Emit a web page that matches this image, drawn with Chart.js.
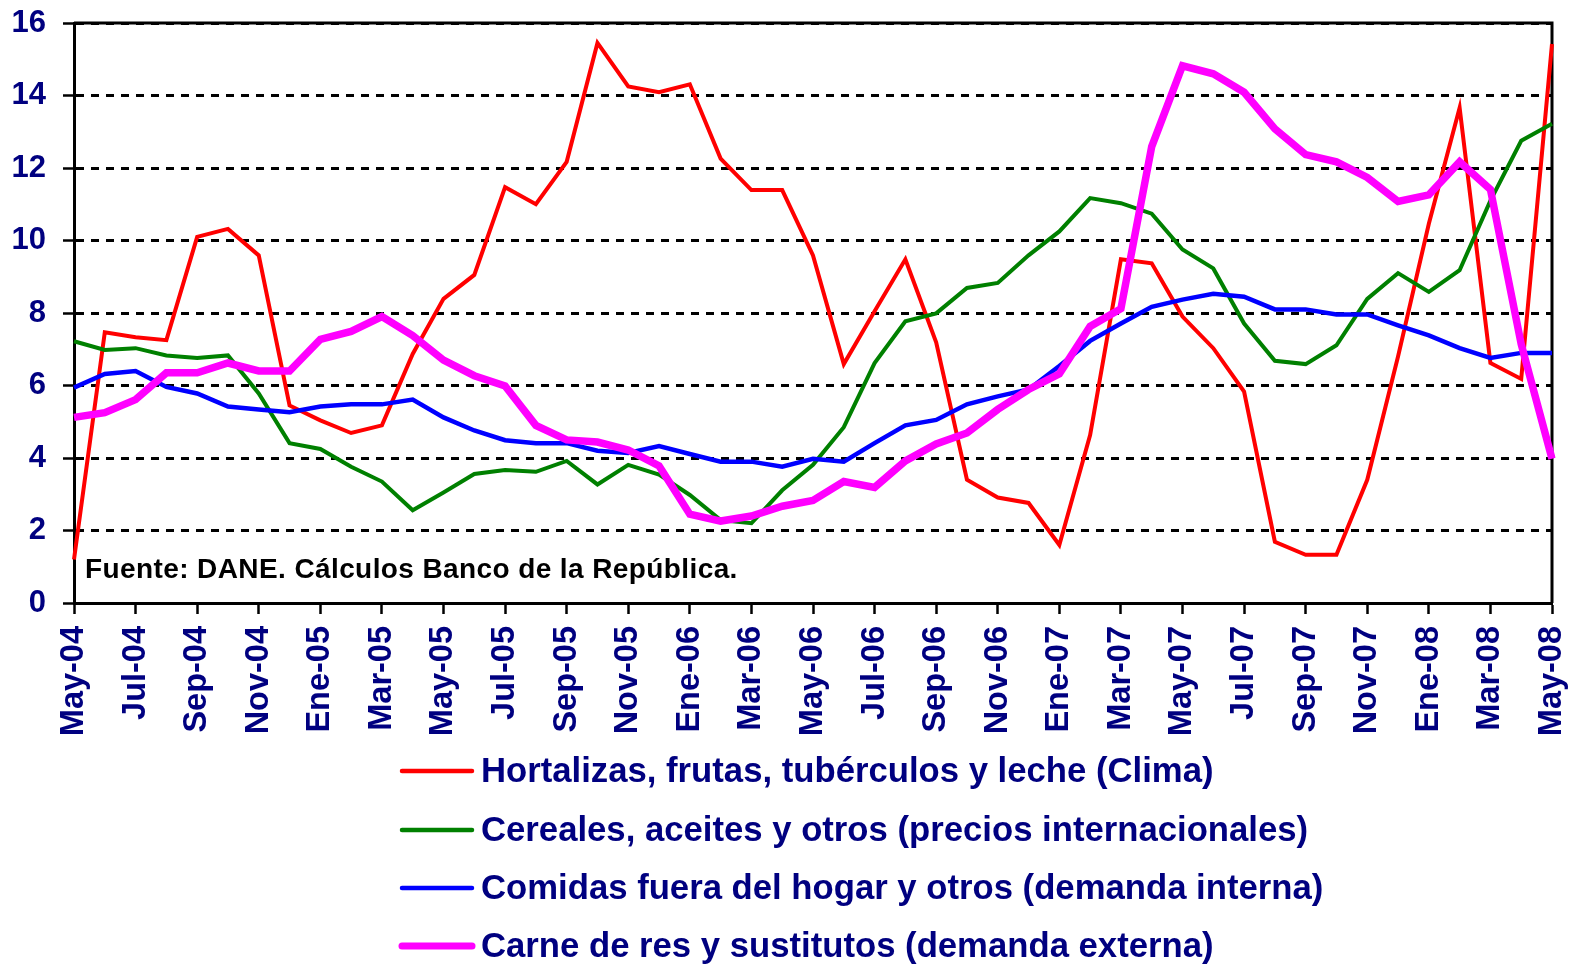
<!DOCTYPE html>
<html><head><meta charset="utf-8">
<script src="https://cdn.jsdelivr.net/npm/chart.js@4.4.1/dist/chart.umd.min.js"></script>
<style>html,body{margin:0;padding:0;background:#fff}#wrap{width:1572px;height:966px;position:relative}</style>
</head><body><div id="wrap"><canvas id="c" width="1572" height="966"></canvas></div>
<script>
const months = ['May-04','Jun-04','Jul-04','Ago-04','Sep-04','Oct-04','Nov-04','Dic-04',
  'Ene-05','Feb-05','Mar-05','Abr-05','May-05','Jun-05','Jul-05','Ago-05','Sep-05','Oct-05','Nov-05','Dic-05',
  'Ene-06','Feb-06','Mar-06','Abr-06','May-06','Jun-06','Jul-06','Ago-06','Sep-06','Oct-06','Nov-06','Dic-06',
  'Ene-07','Feb-07','Mar-07','Abr-07','May-07','Jun-07','Jul-07','Ago-07','Sep-07','Oct-07','Nov-07','Dic-07',
  'Ene-08','Feb-08','Mar-08','Abr-08','May-08'];
const seriesNames = ['Hortalizas, frutas, tubérculos y leche (Clima)',
  'Cereales, aceites y otros (precios internacionales)',
  'Comidas fuera del hogar y otros (demanda interna)',
  'Carne de res y sustitutos (demanda externa)'];
const hortalizas = [1.2, 7.47, 7.33, 7.25, 10.1, 10.32, 9.59, 5.45, 5.04, 4.69,
  4.9, 6.87, 8.39, 9.05, 11.47, 11.0, 12.17, 15.45, 14.25, 14.09,
  14.31, 12.26, 11.39, 11.39, 9.59, 6.59, 8.05, 9.48, 7.19, 3.4,
  2.91, 2.76, 1.6, 4.63, 9.48, 9.37, 7.9, 7.03, 5.83, 1.69,
  1.33, 1.33, 3.4, 6.8, 10.46, 13.66, 6.62, 6.18, 15.42];
const cereales = [7.22, 6.98, 7.03, 6.83, 6.76, 6.83, 5.78, 4.41, 4.25, 3.76,
  3.35, 2.56, 3.05, 3.56, 3.67, 3.62, 3.92, 3.27, 3.81, 3.54,
  2.98, 2.29, 2.2, 3.11, 3.81, 4.85, 6.62, 7.77, 7.99, 8.69,
  8.83, 9.59, 10.25, 11.17, 11.03, 10.74, 9.75, 9.23, 7.71, 6.68,
  6.59, 7.11, 8.39, 9.1, 8.58, 9.18, 11.1, 12.75, 13.22];
const comidas = [5.94, 6.32, 6.4, 5.96, 5.78, 5.42, 5.34, 5.26, 5.42, 5.48,
  5.48, 5.61, 5.12, 4.76, 4.49, 4.41, 4.41, 4.2, 4.14, 4.33,
  4.11, 3.9, 3.9, 3.76, 3.98, 3.9, 4.41, 4.9, 5.05, 5.48,
  5.7, 5.89, 6.54, 7.23, 7.71, 8.17, 8.37, 8.53, 8.45, 8.1,
  8.1, 7.96, 7.96, 7.66, 7.38, 7.03, 6.76, 6.9, 6.9];
const carne = [5.12, 5.25, 5.61, 6.35, 6.35, 6.62, 6.4, 6.4, 7.27, 7.49,
  7.9, 7.38, 6.7, 6.27, 5.99, 4.9, 4.5, 4.44, 4.22, 3.78,
  2.45, 2.26, 2.4, 2.67, 2.83, 3.35, 3.19, 3.92, 4.39, 4.69,
  5.34, 5.89, 6.32, 7.63, 8.12, 12.59, 14.82, 14.6, 14.09, 13.08,
  12.37, 12.17, 11.74, 11.08, 11.26, 12.17, 11.41, 7.14, 3.98];
const sourceNote = 'Fuente: DANE. Cálculos Banco de la República.';

const NAVY = '#000080';
const FONT = "'Liberation Sans', Arial, sans-serif";
Chart.defaults.font.family = FONT;

const colors = ['#FF0000', '#008000', '#0000FF', '#FF00FF'];
const widths = [4, 4, 4.5, 7.5];
const values = [hortalizas, cereales, comidas, carne];

const overlay = {
  id: 'overlay',
  beforeDatasetsDraw(chart) {
    const a = chart.chartArea, ctx = chart.ctx;
    ctx.save();
    ctx.strokeStyle = '#000';
    ctx.lineWidth = 3;
    ctx.beginPath();
    ctx.moveTo(a.left, a.top); ctx.lineTo(a.right, a.top); ctx.lineTo(a.right, a.bottom);
    ctx.stroke();
    ctx.restore();
  },
  afterDraw(chart) {
    const a = chart.chartArea, ctx = chart.ctx;
    ctx.save();
    ctx.fillStyle = '#000';
    ctx.font = 'bold 28px ' + FONT;
    if ('letterSpacing' in ctx) ctx.letterSpacing = '0.4px';
    ctx.textBaseline = 'alphabetic';
    ctx.textAlign = 'left';
    ctx.fillText(sourceNote, a.left + 11, 578);
    if ('letterSpacing' in ctx) ctx.letterSpacing = '0px';
    const rows = [771, 830, 888, 946];
    chart.data.datasets.forEach((ds, i) => {
      const y = rows[i];
      ctx.strokeStyle = ds.borderColor;
      ctx.lineWidth = i === 3 ? 7 : 4.5;
      ctx.lineCap = 'round';
      ctx.beginPath(); ctx.moveTo(402, y); ctx.lineTo(472, y); ctx.stroke();
      ctx.fillStyle = NAVY;
      ctx.font = 'bold 34.7px ' + FONT;
      ctx.textBaseline = 'middle';
      ctx.fillText(ds.label, 481, y + 1);
    });
    ctx.restore();
  }
};

new Chart(document.getElementById('c'), {
  type: 'line',
  data: {
    labels: months,
    datasets: seriesNames.map((name, i) => ({
      label: name,
      data: values[i],
      borderColor: colors[i],
      backgroundColor: colors[i],
      borderWidth: widths[i],
      pointRadius: 0,
      tension: 0,
      fill: false,
      order: 4 - i
    }))
  },
  options: {
    responsive: false,
    animation: false,
    devicePixelRatio: 1,
    layout: { padding: { top: 23, right: 20, bottom: 0, left: 0 } },
    plugins: { legend: { display: false }, tooltip: { enabled: false } },
    scales: {
      x: {
        type: 'category',
        offset: false,
        afterFit(s) { s.height = 363; s.paddingLeft = 0; s.paddingRight = 0; },
        grid: { display: true, drawOnChartArea: false, drawTicks: true, tickLength: 11, tickColor: '#000', tickWidth: 2.5 },
        border: { display: true, color: '#000', width: 3 },
        ticks: {
          autoSkip: false, minRotation: 90, maxRotation: 90, padding: 12,
          color: NAVY, font: { size: 32.5, weight: 'bold' },
          callback: (v, i) => (i % 2 === 0 ? months[i] : null)
        }
      },
      y: {
        min: 0, max: 16,
        afterFit(s) { s.width = 74; s.paddingTop = 0; s.paddingBottom = 0; },
        grid: { color: '#000', lineWidth: 3, drawTicks: true, tickLength: 11, tickColor: '#000', tickWidth: 2.5, tickBorderDash: [] },
        border: { display: true, color: '#000', width: 3, dash: [8, 7] },
        ticks: { stepSize: 2, padding: 17, color: NAVY, font: { size: 31, weight: 'bold' } }
      }
    }
  },
  plugins: [overlay]
});
</script>
</body></html>
